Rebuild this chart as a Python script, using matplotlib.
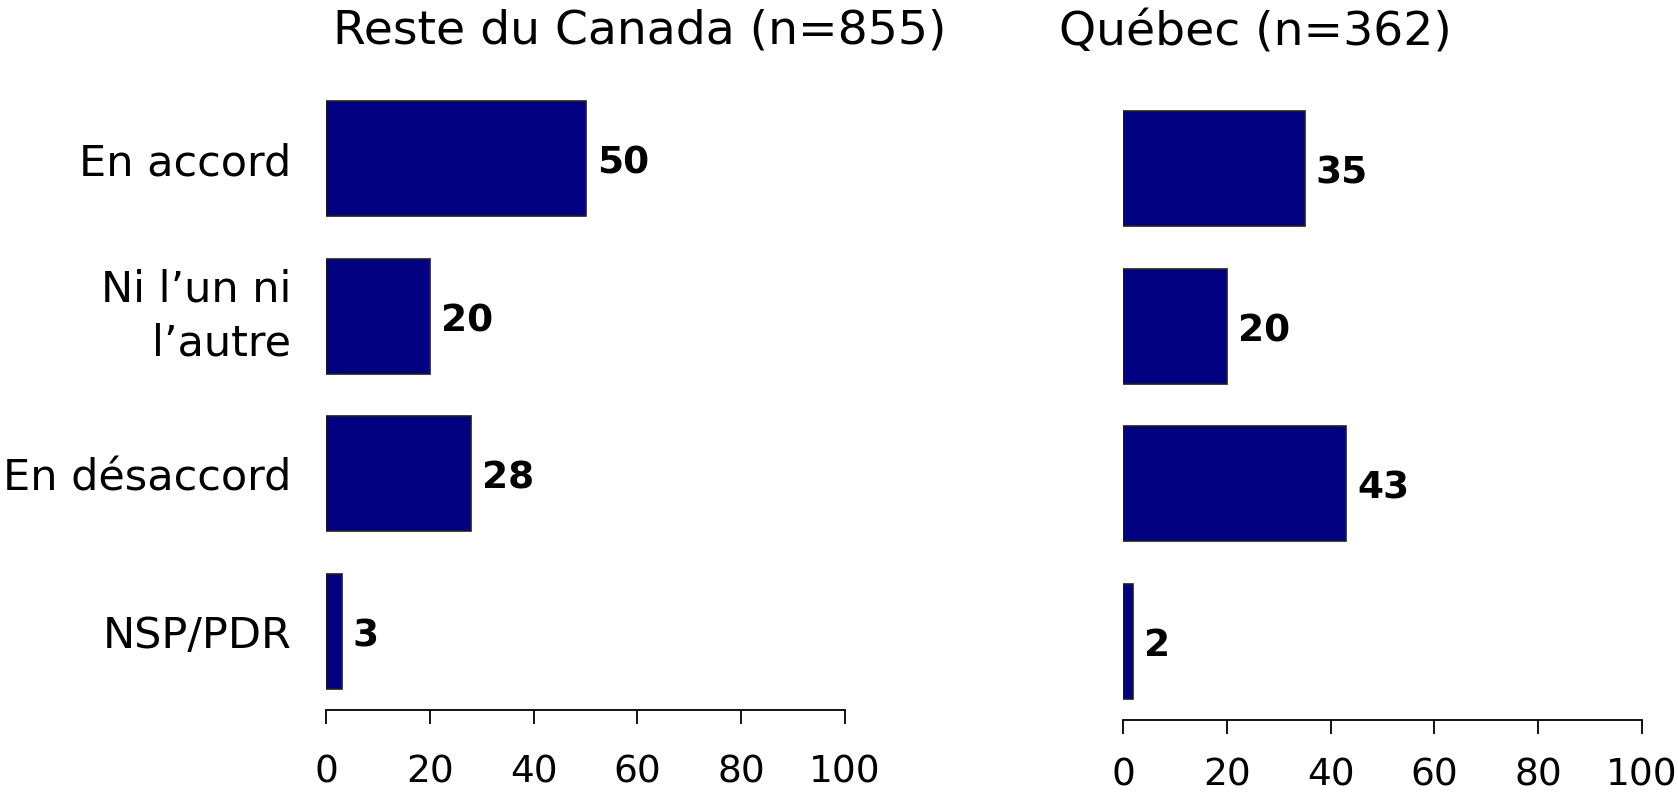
import matplotlib
matplotlib.use("Agg")
import matplotlib.pyplot as plt
from matplotlib.transforms import ScaledTranslation

# categories and values
categories = ["En accord", "Ni l\u2019un ni\nl\u2019autre", "En d\u00e9saccord", "NSP/PDR"]
rest_of_canada = [50, 20, 28, 3]
quebec = [35, 20, 43, 2]
titles = ["Reste du Canada (n=855)", "Qu\u00e9bec (n=362)"]
xticks = [0, 20, 40, 60, 80, 100]

W, H = 1678, 794
fig = plt.figure(figsize=(W / 100, H / 100), dpi=100)
plt.rcParams["font.family"] = "DejaVu Sans"

# axes positions in pixels: left, right, top, bottom
boxes = [(326, 845, 80, 710), (1123, 1642, 90, 720)]
title_pos = [(640, 31), (1255, 33)]
tick_pads = [22, 17]


def panel(box, values, title, tpos, pad, show_labels):
    l, r, t, b = box
    ax = fig.add_axes([l / W, 1 - b / H, (r - l) / W, (b - t) / H])
    y = list(range(len(values)))
    ax.barh(y, values, height=0.73, color="#000080", edgecolor="#202020", linewidth=1.2)
    for yi, v in zip(y, values):
        ax.annotate(str(v), (v, yi), xytext=(8, -3.5), textcoords="offset points",
                    va="center", ha="left", fontsize=27, fontweight="bold")
    ax.set_xlim(0, 100)
    ax.set_ylim(len(values) - 0.5, -0.5)
    ax.set_xticks(xticks)
    ax.tick_params(axis="x", length=10, width=1.3, labelsize=27, pad=pad, direction="out")
    for s in ["top", "right", "left"]:
        ax.spines[s].set_visible(False)
    ax.spines["bottom"].set_linewidth(1.3)
    ax.set_yticks(y)
    if show_labels:
        ax.set_yticklabels(categories, fontsize=31, ha="right", linespacing=1.36)
        ax.tick_params(axis="y", length=0, pad=25)
        # two-line label sits a little high in the original
        lab = ax.get_yticklabels()[1]
        lab.set_transform(lab.get_transform() + ScaledTranslation(0, 0.1, fig.dpi_scale_trans))
    else:
        ax.set_yticklabels([])
        ax.tick_params(axis="y", length=0)
    fig.text(tpos[0] / W, 1 - tpos[1] / H, title, ha="center", va="center", fontsize=34)
    return ax


panel(boxes[0], rest_of_canada, titles[0], title_pos[0], tick_pads[0], True)
panel(boxes[1], quebec, titles[1], title_pos[1], tick_pads[1], False)

fig.savefig("out.png", dpi=100, facecolor="white")
